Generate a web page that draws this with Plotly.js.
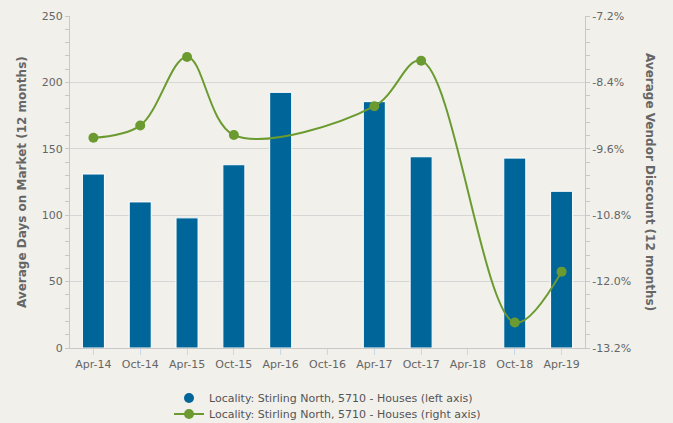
<!DOCTYPE html>
<html><head><meta charset="utf-8">
<script src="https://cdn.plot.ly/plotly-3.0.1.min.js"></script>
<style>html,body{margin:0;padding:0;background:#f1f0eb;}#chart{width:673px;height:423px;}</style>
</head><body><div id="chart"></div>
<script>
const categories = ["Apr-14","Oct-14","Apr-15","Oct-15","Apr-16","Oct-16","Apr-17","Oct-17","Apr-18","Oct-18","Apr-19"];
const daysOnMarket = [131, 110, 98, 138, 192.5, null, 185.5, 144, null, 143, 118];
const vendorDiscount = [-9.40, -9.18, -7.94, -9.35, null, null, -8.83, -8.01, null, -12.74, -11.82];
const leftTicks = [0, 50, 100, 150, 200, 250];
const rightTicks = [-13.2, -12.0, -10.8, -9.6, -8.4, -7.2];
const seriesNames = ["Locality: Stirling North, 5710 - Houses (left axis)", "Locality: Stirling North, 5710 - Houses (right axis)"];

const barColor = "#006699";
const lineColor = "#6b9b30";
const font = "DejaVu Sans, sans-serif";
const legendFont = {family:font, size:11, color:"#555555"};

const traces = [
  {type:"bar", x:categories, y:daysOnMarket, name:seriesNames[0], showlegend:false,
   marker:{color:barColor, line:{color:"#ffffff", width:1}}, yaxis:"y", hoverinfo:"skip"},
  {type:"scatter", mode:"markers", x:[null], y:[null], name:seriesNames[0], legend:"legend",
   marker:{color:barColor, size:10, symbol:"circle"}, yaxis:"y"},
  {type:"scatter", mode:"lines+markers", x:categories, y:vendorDiscount, name:seriesNames[1], legend:"legend2",
   connectgaps:true, line:{color:lineColor, width:2, shape:"spline", smoothing:1},
   marker:{color:lineColor, size:10}, yaxis:"y2"}
];

const layout = {
  width:673, height:423,
  paper_bgcolor:"#f1f0eb", plot_bgcolor:"#f1f0eb",
  margin:{l:70, r:88, t:16, b:75, autoexpand:false},
  font:{family:font, size:11, color:"#666666"},
  bargap:0.53,
  showlegend:true,
  legend:{orientation:"v", xref:"container", yref:"container", x:169/673, xanchor:"left", y:1-398/423, yanchor:"middle",
    font:legendFont, bgcolor:"rgba(0,0,0,0)", itemwidth:30},
  legend2:{orientation:"v", xref:"container", yref:"container", x:169/673, xanchor:"left", y:1-414/423, yanchor:"middle",
    font:legendFont, bgcolor:"rgba(0,0,0,0)", itemwidth:30},
  xaxis:{type:"category", categoryarray:categories, categoryorder:"array", range:[-0.5, categories.length-0.5],
    automargin:false, tickangle:0,
    showline:true, linecolor:"#c8c8c8", linewidth:1, ticks:"outside", ticklen:6, tickcolor:"#ccd6eb",
    tickfont:{family:font, size:11, color:"#666666"}, showgrid:false, zeroline:false, fixedrange:true},
  yaxis:{range:[0,250], tickvals:leftTicks, ticktext:leftTicks.map(String), automargin:false,
    showline:true, linecolor:"#c8c8c8", linewidth:1, ticks:"outside", ticklen:4, tickcolor:"#c8c8c8",
    minor:{dtick:10, ticks:"outside", ticklen:4, tickcolor:"#c8c8c8", showgrid:false},
    showgrid:true, gridcolor:"#d6d6d6", gridwidth:1, zeroline:false,
    tickfont:{family:font, size:11, color:"#666666"}},
  yaxis2:{range:[-13.2,-7.2], overlaying:"y", side:"right", tickvals:rightTicks, automargin:false,
    ticktext:rightTicks.map(v=>v.toFixed(1)+"%"),
    showline:true, linecolor:"#c8c8c8", linewidth:1, ticks:"outside", ticklen:4, tickcolor:"#c8c8c8",
    minor:{dtick:0.24, tick0:-7.2, ticks:"outside", ticklen:4, tickcolor:"#c8c8c8", showgrid:false},
    showgrid:false, zeroline:false, tickfont:{family:font, size:11, color:"#666666"}},
  annotations:[
    {text:"<b>Average Days on Market (12 months)</b>", xref:"paper", yref:"paper",
     x:0, xshift:-48, xanchor:"center", y:0.5, yanchor:"middle", textangle:-90, showarrow:false, font:{family:font, size:12, color:"#666666"}},
    {text:"<b>Average Vendor Discount (12 months)</b>", xref:"paper", yref:"paper",
     x:1, xshift:65, xanchor:"center", y:0.5, yanchor:"middle", textangle:90, showarrow:false, font:{family:font, size:12, color:"#666666"}}]
};
Plotly.newPlot("chart", traces, layout, {displayModeBar:false, staticPlot:true});
</script></body></html>
